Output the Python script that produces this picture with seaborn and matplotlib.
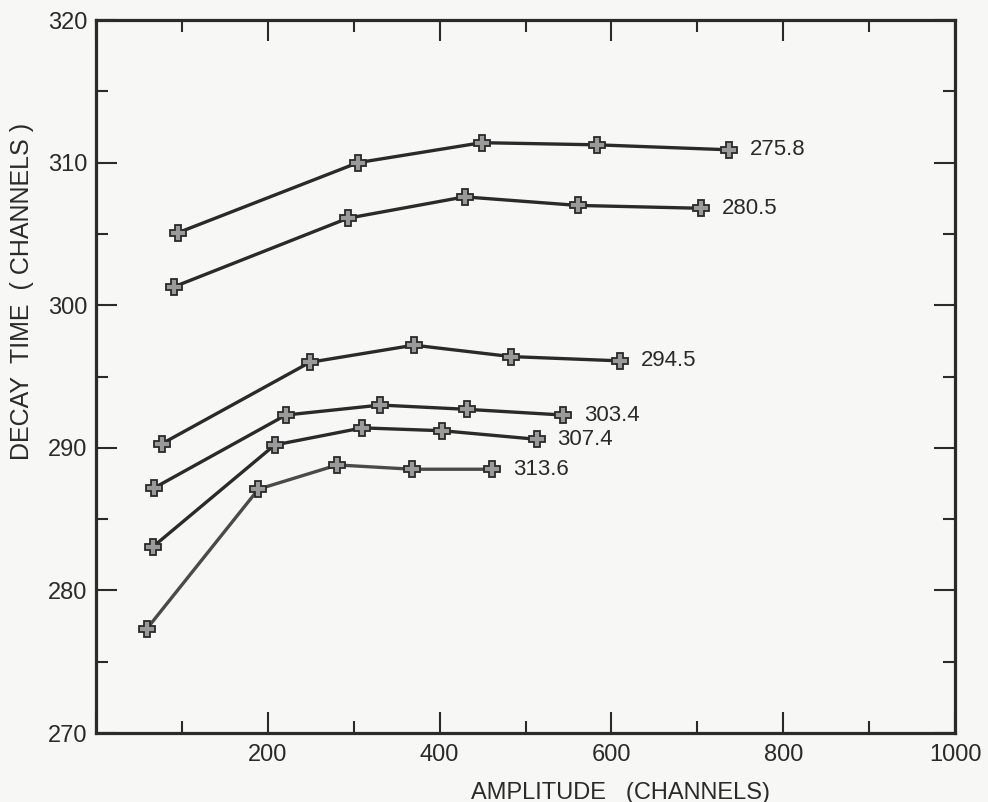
import numpy as np
import matplotlib
matplotlib.use("Agg")
import matplotlib.pyplot as plt
from matplotlib.ticker import MultipleLocator, FixedLocator
import pandas as pd
import seaborn as sns

# values
amp_2758 = [96, 305, 449, 583, 737]
dt_2758 = [305.1, 310.0, 311.4, 311.25, 310.9]
amp_2805 = [91, 293, 429, 561, 704]
dt_2805 = [301.3, 306.1, 307.6, 307.0, 306.8]
amp_2945 = [77, 249, 370, 483, 610]
dt_2945 = [290.3, 296.0, 297.2, 296.4, 296.1]
amp_3034 = [68, 221, 331, 432, 544]
dt_3034 = [287.2, 292.3, 293.0, 292.7, 292.3]
amp_3074 = [66, 208, 310, 403, 513]
dt_3074 = [283.05, 290.2, 291.4, 291.2, 290.6]
amp_3136 = [59, 189, 281, 368, 461]
dt_3136 = [277.3, 287.1, 288.8, 288.5, 288.5]

series_labels = ["275.8", "280.5", "294.5", "303.4", "307.4", "313.6"]
amps = [amp_2758, amp_2805, amp_2945, amp_3034, amp_3074, amp_3136]
dts = [dt_2758, dt_2805, dt_2945, dt_3034, dt_3074, dt_3136]

x_ticklabels = ["", "200", "400", "600", "800", "1000"]
y_ticklabels = ["270", "280", "290", "300", "310", "320"]

rows = []
for lab, xs, ys in zip(series_labels, amps, dts):
    for x, y in zip(xs, ys):
        rows.append({"series": lab, "amplitude": x, "decay": y})
df = pd.DataFrame(rows)

sns.set_theme(style="ticks")
plt.rcParams['font.family'] = ['Liberation Sans', 'DejaVu Sans']

bg = "#f7f7f5"
ink = "#2a2a2a"

fig = plt.figure(figsize=(9.88, 8.02), dpi=100, facecolor=bg)
ax = fig.add_axes([0.0972, 0.086, 0.8694, 0.889])
ax.set_facecolor(bg)

palette = {lab: ink for lab in series_labels}
palette["313.6"] = "#4a4a4a"

sns.lineplot(
    data=df, x="amplitude", y="decay", hue="series",
    hue_order=series_labels, palette=palette,
    sort=False, estimator=None, legend=False,
    linewidth=2.4, marker="P", markersize=11,
    markerfacecolor="#9a9a9a", markeredgecolor=ink, markeredgewidth=1.3,
    ax=ax,
)

# value label at the end of each curve
for lab, xs, ys in zip(series_labels, amps, dts):
    ax.annotate(lab, (xs[-1], ys[-1]), xytext=(15, 0), textcoords="offset points",
                ha="left", va="center", fontsize=16, color=ink)

ax.set_xlim(0, 1000)
ax.set_ylim(270, 320)
ax.xaxis.set_major_locator(FixedLocator([0, 200, 400, 600, 800, 1000]))
ax.set_xticklabels(x_ticklabels)
ax.xaxis.set_minor_locator(MultipleLocator(100))
ax.yaxis.set_major_locator(FixedLocator([270, 280, 290, 300, 310, 320]))
ax.set_yticklabels(y_ticklabels)
ax.yaxis.set_minor_locator(MultipleLocator(5))

ax.tick_params(which="both", direction="in", top=True, right=True,
               color=ink, width=1.5, labelsize=17, labelcolor=ink)
ax.tick_params(which="major", length=15)
ax.tick_params(which="minor", length=8.5)
ax.tick_params(axis="x", pad=8)
ax.tick_params(axis="y", pad=6)

for sp in ax.spines.values():
    sp.set_linewidth(2.3)
    sp.set_color(ink)

ax.set_xlabel("AMPLITUDE   (CHANNELS)", fontsize=17, color=ink)
ax.set_ylabel("DECAY  TIME  ( CHANNELS )", fontsize=18, color=ink)
ax.xaxis.set_label_coords(0.611, -0.068)
ax.yaxis.set_label_coords(-0.072, 0.619)

fig.savefig("out.png", dpi=100, facecolor=bg)
